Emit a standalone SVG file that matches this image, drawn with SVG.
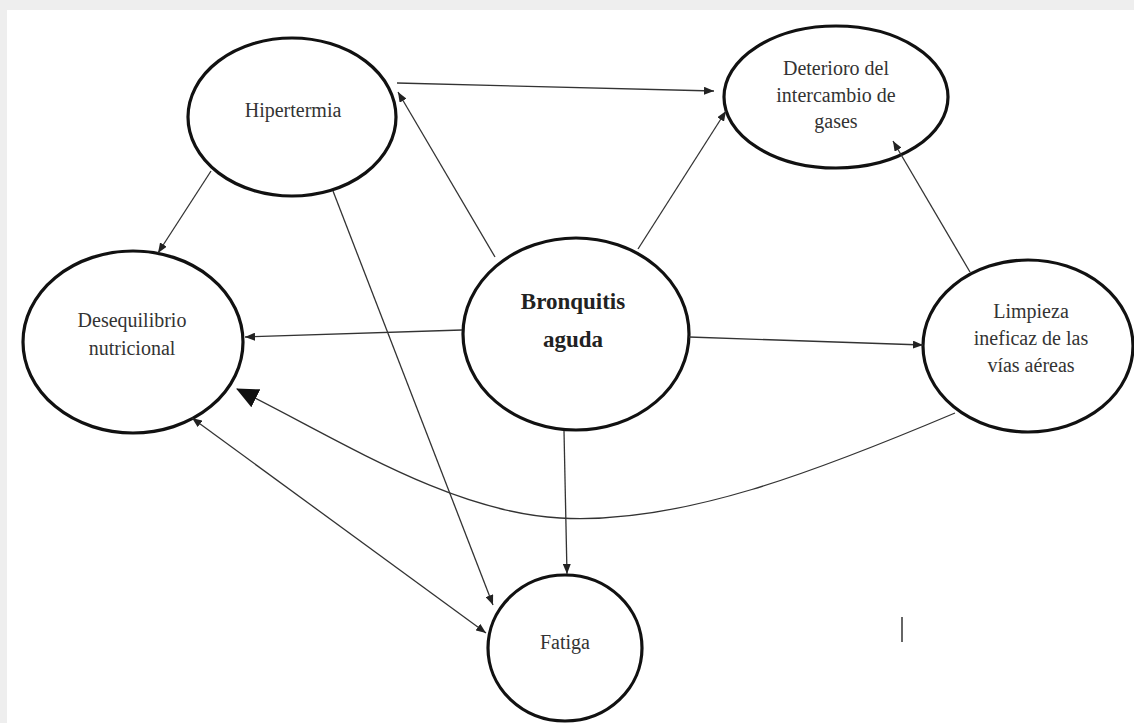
<svg xmlns="http://www.w3.org/2000/svg" width="1134" height="723" viewBox="0 0 1134 723">
  <defs>
    <marker id="ah" markerUnits="userSpaceOnUse" markerWidth="10" markerHeight="8" refX="10" refY="4" orient="auto-start-reverse">
      <path d="M0,0 L10,4 L0,8 z" fill="#222"/>
    </marker>
    <marker id="big" markerUnits="userSpaceOnUse" markerWidth="22" markerHeight="20" refX="21" refY="10" orient="auto">
      <path d="M0,0 L22,10 L0,20 z" fill="#111"/>
    </marker>
  </defs>
  <style>
    .node { fill: #ffffff; stroke: #111111; stroke-width: 3.2; }
    .lbl { font-family: "Liberation Serif", "Times New Roman", serif; font-size: 20px; fill: #333333; text-anchor: middle; }
    .bold { font-weight: bold; font-size: 23px; fill: #222222; }
    .edge { fill: none; stroke: #333333; stroke-width: 1.3; }
  </style>
  <rect x="0" y="0" width="1134" height="723" fill="#eeeeee"/>
  <rect x="7" y="10" width="1127" height="713" fill="#ffffff"/>

  <g id="node-hipertermia">
    <ellipse class="node" cx="292" cy="117" rx="104" ry="79"/>
    <text class="lbl" x="293" y="117">Hipertermia</text>
  </g>
  <g id="node-deterioro">
    <ellipse class="node" cx="836" cy="97" rx="112" ry="71"/>
    <text class="lbl" x="836" y="75">Deterioro del</text>
    <text class="lbl" x="836" y="102">intercambio de</text>
    <text class="lbl" x="836" y="128">gases</text>
  </g>
  <g id="node-desequilibrio">
    <ellipse class="node" cx="133" cy="342" rx="110" ry="91"/>
    <text class="lbl" x="132" y="327">Desequilibrio</text>
    <text class="lbl" x="132" y="355">nutricional</text>
  </g>
  <g id="node-bronquitis">
    <ellipse class="node" cx="576" cy="334" rx="113" ry="96"/>
    <text class="lbl bold" x="573" y="309">Bronquitis</text>
    <text class="lbl bold" x="573" y="347">aguda</text>
  </g>
  <g id="node-limpieza">
    <ellipse class="node" cx="1028" cy="346" rx="105" ry="86"/>
    <text class="lbl" x="1031" y="318">Limpieza</text>
    <text class="lbl" x="1031" y="345">ineficaz de las</text>
    <text class="lbl" x="1031" y="372">vías aéreas</text>
  </g>
  <g id="node-fatiga">
    <ellipse class="node" cx="565" cy="648" rx="77" ry="73"/>
    <text class="lbl" x="565" y="649">Fatiga</text>
  </g>

  <g id="connectors">
    <line class="edge" x1="397" y1="83" x2="714" y2="91" marker-end="url(#ah)"/>
    <line class="edge" x1="495" y1="257" x2="398" y2="92" marker-end="url(#ah)"/>
    <line class="edge" x1="638" y1="249" x2="726" y2="111" marker-end="url(#ah)"/>
    <line class="edge" x1="970" y1="272" x2="893" y2="141" marker-end="url(#ah)"/>
    <line class="edge" x1="689" y1="337" x2="923" y2="345" marker-end="url(#ah)"/>
    <line class="edge" x1="462" y1="330" x2="245" y2="337" marker-end="url(#ah)"/>
    <line class="edge" x1="564" y1="431" x2="567" y2="574" marker-end="url(#ah)"/>
    <line class="edge" x1="211" y1="171" x2="158" y2="253" marker-end="url(#ah)"/>
    <line class="edge" x1="333" y1="191" x2="493" y2="605" marker-end="url(#ah)"/>
    <line class="edge" x1="192" y1="418" x2="486" y2="633" marker-start="url(#ah)" marker-end="url(#ah)"/>
    <path class="edge" d="M955,413 C820,470 680,525 560,518 C450,512 340,440 237,389" marker-end="url(#big)"/>
  </g>

  <line x1="902" y1="617" x2="902" y2="642" stroke="#666666" stroke-width="2"/>
</svg>
